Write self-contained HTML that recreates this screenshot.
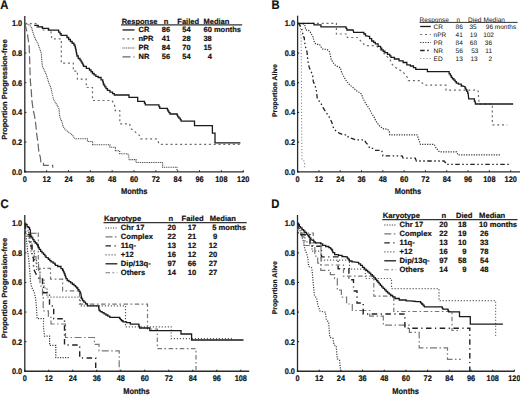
<!DOCTYPE html>
<html><head><meta charset="utf-8"><style>
html,body{margin:0;padding:0;background:#fff;}
svg{display:block;font-family:"Liberation Sans", sans-serif;text-rendering:geometricPrecision;}
text{fill:#111;}
text[font-weight=bold]{stroke:#111;stroke-width:0.2px;}
</style></head><body>
<svg width="520" height="400" viewBox="0 0 520 400">
<rect width="520" height="400" fill="#fff"/>
<line x1="24.80" y1="16.10" x2="24.80" y2="172.40" stroke="#2a2a2a" stroke-width="1.3"/>
<line x1="24.20" y1="171.80" x2="243.80" y2="171.80" stroke="#2a2a2a" stroke-width="1.3"/>
<line x1="24.80" y1="171.80" x2="26.40" y2="171.80" stroke="#222" stroke-width="1.0"/>
<text x="0" y="0" font-size="8.2" font-weight="bold" text-anchor="end" transform="translate(22.20,174.75) scale(0.9,1)">0.0</text>
<line x1="24.80" y1="142.10" x2="26.40" y2="142.10" stroke="#222" stroke-width="1.0"/>
<text x="0" y="0" font-size="8.2" font-weight="bold" text-anchor="end" transform="translate(22.20,145.05) scale(0.9,1)">0.2</text>
<line x1="24.80" y1="112.40" x2="26.40" y2="112.40" stroke="#222" stroke-width="1.0"/>
<text x="0" y="0" font-size="8.2" font-weight="bold" text-anchor="end" transform="translate(22.20,115.35) scale(0.9,1)">0.4</text>
<line x1="24.80" y1="82.70" x2="26.40" y2="82.70" stroke="#222" stroke-width="1.0"/>
<text x="0" y="0" font-size="8.2" font-weight="bold" text-anchor="end" transform="translate(22.20,85.65) scale(0.9,1)">0.6</text>
<line x1="24.80" y1="53.00" x2="26.40" y2="53.00" stroke="#222" stroke-width="1.0"/>
<text x="0" y="0" font-size="8.2" font-weight="bold" text-anchor="end" transform="translate(22.20,55.95) scale(0.9,1)">0.8</text>
<line x1="24.80" y1="23.30" x2="26.40" y2="23.30" stroke="#222" stroke-width="1.0"/>
<text x="0" y="0" font-size="8.2" font-weight="bold" text-anchor="end" transform="translate(22.20,26.25) scale(0.9,1)">1.0</text>
<line x1="24.80" y1="171.80" x2="24.80" y2="170.20" stroke="#222" stroke-width="1.0"/>
<text x="0" y="0" font-size="8.2" font-weight="bold" text-anchor="middle" transform="translate(24.80,181.80) scale(0.9,1)">0</text>
<line x1="46.64" y1="171.80" x2="46.64" y2="170.20" stroke="#222" stroke-width="1.0"/>
<text x="0" y="0" font-size="8.2" font-weight="bold" text-anchor="middle" transform="translate(46.64,181.80) scale(0.9,1)">12</text>
<line x1="68.48" y1="171.80" x2="68.48" y2="170.20" stroke="#222" stroke-width="1.0"/>
<text x="0" y="0" font-size="8.2" font-weight="bold" text-anchor="middle" transform="translate(68.48,181.80) scale(0.9,1)">24</text>
<line x1="90.32" y1="171.80" x2="90.32" y2="170.20" stroke="#222" stroke-width="1.0"/>
<text x="0" y="0" font-size="8.2" font-weight="bold" text-anchor="middle" transform="translate(90.32,181.80) scale(0.9,1)">36</text>
<line x1="112.16" y1="171.80" x2="112.16" y2="170.20" stroke="#222" stroke-width="1.0"/>
<text x="0" y="0" font-size="8.2" font-weight="bold" text-anchor="middle" transform="translate(112.16,181.80) scale(0.9,1)">48</text>
<line x1="134.00" y1="171.80" x2="134.00" y2="170.20" stroke="#222" stroke-width="1.0"/>
<text x="0" y="0" font-size="8.2" font-weight="bold" text-anchor="middle" transform="translate(134.00,181.80) scale(0.9,1)">60</text>
<line x1="155.84" y1="171.80" x2="155.84" y2="170.20" stroke="#222" stroke-width="1.0"/>
<text x="0" y="0" font-size="8.2" font-weight="bold" text-anchor="middle" transform="translate(155.84,181.80) scale(0.9,1)">72</text>
<line x1="177.68" y1="171.80" x2="177.68" y2="170.20" stroke="#222" stroke-width="1.0"/>
<text x="0" y="0" font-size="8.2" font-weight="bold" text-anchor="middle" transform="translate(177.68,181.80) scale(0.9,1)">84</text>
<line x1="199.52" y1="171.80" x2="199.52" y2="170.20" stroke="#222" stroke-width="1.0"/>
<text x="0" y="0" font-size="8.2" font-weight="bold" text-anchor="middle" transform="translate(199.52,181.80) scale(0.9,1)">96</text>
<line x1="221.36" y1="171.80" x2="221.36" y2="170.20" stroke="#222" stroke-width="1.0"/>
<text x="0" y="0" font-size="8.2" font-weight="bold" text-anchor="middle" transform="translate(221.36,181.80) scale(0.9,1)">108</text>
<line x1="243.20" y1="171.80" x2="243.20" y2="170.20" stroke="#222" stroke-width="1.0"/>
<text x="0" y="0" font-size="8.2" font-weight="bold" text-anchor="middle" transform="translate(243.20,181.80) scale(0.9,1)">120</text>
<line x1="297.60" y1="15.70" x2="297.60" y2="172.40" stroke="#2a2a2a" stroke-width="1.3"/>
<line x1="297.00" y1="171.80" x2="520.00" y2="171.80" stroke="#2a2a2a" stroke-width="1.3"/>
<line x1="297.60" y1="171.80" x2="299.20" y2="171.80" stroke="#222" stroke-width="1.0"/>
<text x="0" y="0" font-size="8.2" font-weight="bold" text-anchor="end" transform="translate(295.00,174.75) scale(0.9,1)">0.0</text>
<line x1="297.60" y1="142.10" x2="299.20" y2="142.10" stroke="#222" stroke-width="1.0"/>
<text x="0" y="0" font-size="8.2" font-weight="bold" text-anchor="end" transform="translate(295.00,145.05) scale(0.9,1)">0.2</text>
<line x1="297.60" y1="112.40" x2="299.20" y2="112.40" stroke="#222" stroke-width="1.0"/>
<text x="0" y="0" font-size="8.2" font-weight="bold" text-anchor="end" transform="translate(295.00,115.35) scale(0.9,1)">0.4</text>
<line x1="297.60" y1="82.70" x2="299.20" y2="82.70" stroke="#222" stroke-width="1.0"/>
<text x="0" y="0" font-size="8.2" font-weight="bold" text-anchor="end" transform="translate(295.00,85.65) scale(0.9,1)">0.6</text>
<line x1="297.60" y1="53.00" x2="299.20" y2="53.00" stroke="#222" stroke-width="1.0"/>
<text x="0" y="0" font-size="8.2" font-weight="bold" text-anchor="end" transform="translate(295.00,55.95) scale(0.9,1)">0.8</text>
<line x1="297.60" y1="23.30" x2="299.20" y2="23.30" stroke="#222" stroke-width="1.0"/>
<text x="0" y="0" font-size="8.2" font-weight="bold" text-anchor="end" transform="translate(295.00,26.25) scale(0.9,1)">1.0</text>
<line x1="297.60" y1="171.80" x2="297.60" y2="170.20" stroke="#222" stroke-width="1.0"/>
<text x="0" y="0" font-size="8.2" font-weight="bold" text-anchor="middle" transform="translate(297.60,181.80) scale(0.9,1)">0</text>
<line x1="318.91" y1="171.80" x2="318.91" y2="170.20" stroke="#222" stroke-width="1.0"/>
<text x="0" y="0" font-size="8.2" font-weight="bold" text-anchor="middle" transform="translate(318.91,181.80) scale(0.9,1)">12</text>
<line x1="340.22" y1="171.80" x2="340.22" y2="170.20" stroke="#222" stroke-width="1.0"/>
<text x="0" y="0" font-size="8.2" font-weight="bold" text-anchor="middle" transform="translate(340.22,181.80) scale(0.9,1)">24</text>
<line x1="361.53" y1="171.80" x2="361.53" y2="170.20" stroke="#222" stroke-width="1.0"/>
<text x="0" y="0" font-size="8.2" font-weight="bold" text-anchor="middle" transform="translate(361.53,181.80) scale(0.9,1)">36</text>
<line x1="382.84" y1="171.80" x2="382.84" y2="170.20" stroke="#222" stroke-width="1.0"/>
<text x="0" y="0" font-size="8.2" font-weight="bold" text-anchor="middle" transform="translate(382.84,181.80) scale(0.9,1)">48</text>
<line x1="404.15" y1="171.80" x2="404.15" y2="170.20" stroke="#222" stroke-width="1.0"/>
<text x="0" y="0" font-size="8.2" font-weight="bold" text-anchor="middle" transform="translate(404.15,181.80) scale(0.9,1)">60</text>
<line x1="425.46" y1="171.80" x2="425.46" y2="170.20" stroke="#222" stroke-width="1.0"/>
<text x="0" y="0" font-size="8.2" font-weight="bold" text-anchor="middle" transform="translate(425.46,181.80) scale(0.9,1)">72</text>
<line x1="446.77" y1="171.80" x2="446.77" y2="170.20" stroke="#222" stroke-width="1.0"/>
<text x="0" y="0" font-size="8.2" font-weight="bold" text-anchor="middle" transform="translate(446.77,181.80) scale(0.9,1)">84</text>
<line x1="468.08" y1="171.80" x2="468.08" y2="170.20" stroke="#222" stroke-width="1.0"/>
<text x="0" y="0" font-size="8.2" font-weight="bold" text-anchor="middle" transform="translate(468.08,181.80) scale(0.9,1)">96</text>
<line x1="489.39" y1="171.80" x2="489.39" y2="170.20" stroke="#222" stroke-width="1.0"/>
<text x="0" y="0" font-size="8.2" font-weight="bold" text-anchor="middle" transform="translate(489.39,181.80) scale(0.9,1)">108</text>
<line x1="510.70" y1="171.80" x2="510.70" y2="170.20" stroke="#222" stroke-width="1.0"/>
<text x="0" y="0" font-size="8.2" font-weight="bold" text-anchor="middle" transform="translate(510.70,181.80) scale(0.9,1)">120</text>
<line x1="24.80" y1="215.00" x2="24.80" y2="371.85" stroke="#2a2a2a" stroke-width="1.3"/>
<line x1="24.20" y1="371.25" x2="249.20" y2="371.25" stroke="#2a2a2a" stroke-width="1.3"/>
<line x1="24.80" y1="371.25" x2="26.40" y2="371.25" stroke="#222" stroke-width="1.0"/>
<text x="0" y="0" font-size="8.2" font-weight="bold" text-anchor="end" transform="translate(22.20,374.20) scale(0.9,1)">0.0</text>
<line x1="24.80" y1="341.65" x2="26.40" y2="341.65" stroke="#222" stroke-width="1.0"/>
<text x="0" y="0" font-size="8.2" font-weight="bold" text-anchor="end" transform="translate(22.20,344.60) scale(0.9,1)">0.2</text>
<line x1="24.80" y1="312.05" x2="26.40" y2="312.05" stroke="#222" stroke-width="1.0"/>
<text x="0" y="0" font-size="8.2" font-weight="bold" text-anchor="end" transform="translate(22.20,315.00) scale(0.9,1)">0.4</text>
<line x1="24.80" y1="282.45" x2="26.40" y2="282.45" stroke="#222" stroke-width="1.0"/>
<text x="0" y="0" font-size="8.2" font-weight="bold" text-anchor="end" transform="translate(22.20,285.40) scale(0.9,1)">0.6</text>
<line x1="24.80" y1="252.85" x2="26.40" y2="252.85" stroke="#222" stroke-width="1.0"/>
<text x="0" y="0" font-size="8.2" font-weight="bold" text-anchor="end" transform="translate(22.20,255.80) scale(0.9,1)">0.8</text>
<line x1="24.80" y1="223.25" x2="26.40" y2="223.25" stroke="#222" stroke-width="1.0"/>
<text x="0" y="0" font-size="8.2" font-weight="bold" text-anchor="end" transform="translate(22.20,226.20) scale(0.9,1)">1.0</text>
<line x1="24.80" y1="371.25" x2="24.80" y2="369.65" stroke="#222" stroke-width="1.0"/>
<text x="0" y="0" font-size="8.2" font-weight="bold" text-anchor="middle" transform="translate(24.80,381.25) scale(0.9,1)">0</text>
<line x1="48.80" y1="371.25" x2="48.80" y2="369.65" stroke="#222" stroke-width="1.0"/>
<text x="0" y="0" font-size="8.2" font-weight="bold" text-anchor="middle" transform="translate(48.80,381.25) scale(0.9,1)">12</text>
<line x1="72.80" y1="371.25" x2="72.80" y2="369.65" stroke="#222" stroke-width="1.0"/>
<text x="0" y="0" font-size="8.2" font-weight="bold" text-anchor="middle" transform="translate(72.80,381.25) scale(0.9,1)">24</text>
<line x1="96.80" y1="371.25" x2="96.80" y2="369.65" stroke="#222" stroke-width="1.0"/>
<text x="0" y="0" font-size="8.2" font-weight="bold" text-anchor="middle" transform="translate(96.80,381.25) scale(0.9,1)">36</text>
<line x1="120.80" y1="371.25" x2="120.80" y2="369.65" stroke="#222" stroke-width="1.0"/>
<text x="0" y="0" font-size="8.2" font-weight="bold" text-anchor="middle" transform="translate(120.80,381.25) scale(0.9,1)">48</text>
<line x1="144.80" y1="371.25" x2="144.80" y2="369.65" stroke="#222" stroke-width="1.0"/>
<text x="0" y="0" font-size="8.2" font-weight="bold" text-anchor="middle" transform="translate(144.80,381.25) scale(0.9,1)">60</text>
<line x1="168.80" y1="371.25" x2="168.80" y2="369.65" stroke="#222" stroke-width="1.0"/>
<text x="0" y="0" font-size="8.2" font-weight="bold" text-anchor="middle" transform="translate(168.80,381.25) scale(0.9,1)">72</text>
<line x1="192.80" y1="371.25" x2="192.80" y2="369.65" stroke="#222" stroke-width="1.0"/>
<text x="0" y="0" font-size="8.2" font-weight="bold" text-anchor="middle" transform="translate(192.80,381.25) scale(0.9,1)">84</text>
<line x1="216.80" y1="371.25" x2="216.80" y2="369.65" stroke="#222" stroke-width="1.0"/>
<text x="0" y="0" font-size="8.2" font-weight="bold" text-anchor="middle" transform="translate(216.80,381.25) scale(0.9,1)">96</text>
<line x1="240.80" y1="371.25" x2="240.80" y2="369.65" stroke="#222" stroke-width="1.0"/>
<text x="0" y="0" font-size="8.2" font-weight="bold" text-anchor="middle" transform="translate(240.80,381.25) scale(0.9,1)">108</text>
<line x1="297.50" y1="215.00" x2="297.50" y2="371.85" stroke="#2a2a2a" stroke-width="1.3"/>
<line x1="296.90" y1="371.25" x2="514.60" y2="371.25" stroke="#2a2a2a" stroke-width="1.3"/>
<line x1="297.50" y1="371.25" x2="299.10" y2="371.25" stroke="#222" stroke-width="1.0"/>
<text x="0" y="0" font-size="8.2" font-weight="bold" text-anchor="end" transform="translate(294.90,374.20) scale(0.9,1)">0.0</text>
<line x1="297.50" y1="341.65" x2="299.10" y2="341.65" stroke="#222" stroke-width="1.0"/>
<text x="0" y="0" font-size="8.2" font-weight="bold" text-anchor="end" transform="translate(294.90,344.60) scale(0.9,1)">0.2</text>
<line x1="297.50" y1="312.05" x2="299.10" y2="312.05" stroke="#222" stroke-width="1.0"/>
<text x="0" y="0" font-size="8.2" font-weight="bold" text-anchor="end" transform="translate(294.90,315.00) scale(0.9,1)">0.4</text>
<line x1="297.50" y1="282.45" x2="299.10" y2="282.45" stroke="#222" stroke-width="1.0"/>
<text x="0" y="0" font-size="8.2" font-weight="bold" text-anchor="end" transform="translate(294.90,285.40) scale(0.9,1)">0.6</text>
<line x1="297.50" y1="252.85" x2="299.10" y2="252.85" stroke="#222" stroke-width="1.0"/>
<text x="0" y="0" font-size="8.2" font-weight="bold" text-anchor="end" transform="translate(294.90,255.80) scale(0.9,1)">0.8</text>
<line x1="297.50" y1="223.25" x2="299.10" y2="223.25" stroke="#222" stroke-width="1.0"/>
<text x="0" y="0" font-size="8.2" font-weight="bold" text-anchor="end" transform="translate(294.90,226.20) scale(0.9,1)">1.0</text>
<line x1="297.50" y1="371.25" x2="297.50" y2="369.65" stroke="#222" stroke-width="1.0"/>
<text x="0" y="0" font-size="8.2" font-weight="bold" text-anchor="middle" transform="translate(297.50,381.25) scale(0.9,1)">0</text>
<line x1="319.19" y1="371.25" x2="319.19" y2="369.65" stroke="#222" stroke-width="1.0"/>
<text x="0" y="0" font-size="8.2" font-weight="bold" text-anchor="middle" transform="translate(319.19,381.25) scale(0.9,1)">12</text>
<line x1="340.88" y1="371.25" x2="340.88" y2="369.65" stroke="#222" stroke-width="1.0"/>
<text x="0" y="0" font-size="8.2" font-weight="bold" text-anchor="middle" transform="translate(340.88,381.25) scale(0.9,1)">24</text>
<line x1="362.57" y1="371.25" x2="362.57" y2="369.65" stroke="#222" stroke-width="1.0"/>
<text x="0" y="0" font-size="8.2" font-weight="bold" text-anchor="middle" transform="translate(362.57,381.25) scale(0.9,1)">36</text>
<line x1="384.26" y1="371.25" x2="384.26" y2="369.65" stroke="#222" stroke-width="1.0"/>
<text x="0" y="0" font-size="8.2" font-weight="bold" text-anchor="middle" transform="translate(384.26,381.25) scale(0.9,1)">48</text>
<line x1="405.95" y1="371.25" x2="405.95" y2="369.65" stroke="#222" stroke-width="1.0"/>
<text x="0" y="0" font-size="8.2" font-weight="bold" text-anchor="middle" transform="translate(405.95,381.25) scale(0.9,1)">60</text>
<line x1="427.64" y1="371.25" x2="427.64" y2="369.65" stroke="#222" stroke-width="1.0"/>
<text x="0" y="0" font-size="8.2" font-weight="bold" text-anchor="middle" transform="translate(427.64,381.25) scale(0.9,1)">72</text>
<line x1="449.33" y1="371.25" x2="449.33" y2="369.65" stroke="#222" stroke-width="1.0"/>
<text x="0" y="0" font-size="8.2" font-weight="bold" text-anchor="middle" transform="translate(449.33,381.25) scale(0.9,1)">84</text>
<line x1="471.02" y1="371.25" x2="471.02" y2="369.65" stroke="#222" stroke-width="1.0"/>
<text x="0" y="0" font-size="8.2" font-weight="bold" text-anchor="middle" transform="translate(471.02,381.25) scale(0.9,1)">96</text>
<line x1="492.71" y1="371.25" x2="492.71" y2="369.65" stroke="#222" stroke-width="1.0"/>
<text x="0" y="0" font-size="8.2" font-weight="bold" text-anchor="middle" transform="translate(492.71,381.25) scale(0.9,1)">108</text>
<line x1="514.40" y1="371.25" x2="514.40" y2="369.65" stroke="#222" stroke-width="1.0"/>
<text x="0" y="0" font-size="8.2" font-weight="bold" text-anchor="middle" transform="translate(514.40,381.25) scale(0.9,1)">120</text>
<text x="0" y="0" font-size="12.5" font-weight="bold" transform="translate(0.3,8.5) scale(0.9,1)">A</text>
<text x="0" y="0" font-size="12.5" font-weight="bold" transform="translate(271.6,8.8) scale(0.9,1)">B</text>
<text x="0" y="0" font-size="12.5" font-weight="bold" transform="translate(0.4,207.5) scale(0.9,1)">C</text>
<text x="0" y="0" font-size="12.5" font-weight="bold" transform="translate(271.2,207.6) scale(0.9,1)">D</text>
<text x="0" y="0" font-size="8.3" font-weight="bold" text-anchor="middle" transform="translate(134.20,193.85) scale(0.9,1)">Months</text>
<text x="0" y="0" font-size="8.3" font-weight="bold" text-anchor="middle" transform="translate(408.00,193.85) scale(0.9,1)">Months</text>
<text x="0" y="0" font-size="8.3" font-weight="bold" text-anchor="middle" transform="translate(136.50,393.80) scale(0.9,1)">Months</text>
<text x="0" y="0" font-size="8.3" font-weight="bold" text-anchor="middle" transform="translate(405.60,393.50) scale(0.9,1)">Months</text>
<text x="0" y="0" font-size="7.5" font-weight="bold" text-anchor="middle" transform="translate(7.30,89.50) rotate(-90)">Proportion Progression-free</text>
<text x="0" y="0" font-size="6.85" font-weight="bold" text-anchor="middle" transform="translate(276.50,90.60) rotate(-90)">Proportion Alive</text>
<text x="0" y="0" font-size="7.5" font-weight="bold" text-anchor="middle" transform="translate(7.30,288.00) rotate(-90)">Proportion Progression-free</text>
<text x="0" y="0" font-size="6.85" font-weight="bold" text-anchor="middle" transform="translate(276.50,287.80) rotate(-90)">Proportion Alive</text>
<path d="M25,23.6 L27.5,34.6 L29.2,46.2 L29.5,55 L30.3,80.4 L31.2,89.6 L31.8,99.4 L32.6,105.8 L33.2,110 L34.8,117.3 L35.4,121.5 L36.3,129.6 L36.7,134.2 L37.8,141.5 L38.2,145 L39,153.1 L40.3,156.9 L40.9,162.5 H43.5 V165.4 H52.7 V167.7" fill="none" stroke="#666" stroke-width="1.2" stroke-dasharray="8,3" stroke-linecap="butt" stroke-linejoin="miter"/>
<path d="M25,23.6 L28.6,24.5 L30.9,26.5 L31.7,28 L33.2,33.4 L34.4,36.5 L35.9,40.3 L37.8,43.4 L39.6,48.5 L41.3,53.1 L41.9,61.9 L42.5,66.5 L44.2,70 L46.5,75.2 L48.8,82.7 L51.1,88.5 L52.3,94.2 L53.4,98.8 L54.3,100.8 L57.2,105.4 L59,108.8 L59.5,114.6 L60.1,118.1 L61.8,121.5 L63,126.2 L64.7,129 L68.2,131.9 L72.2,134.8 L75.1,138.8 H87.4 V141.5 H92.6 V144.8 H109.9 V147.3 H115.4 V150.8 H119.7 V153.7 H127.8 L128.7,156 L129.2,159.6 H136 V162.5 H162.6 V167.3 H176.9 V170" fill="none" stroke="#444" stroke-width="1.1" stroke-dasharray="1,0.8" stroke-linecap="butt" stroke-linejoin="miter"/>
<path d="M25,23.6 H36 V27 H42.5 V30 H50.8 L51.7,38.8 H61.3 V63.1 H73.3 V71.2 H77.4 V79.2 H86.3 V87.5 H92.5 V100.5 H112 L114.6,105.4 L115.2,109.4 V110.6 H119.8 V123.8 H129.6 L130.2,126.2 L131.3,129 L134.2,130.8 L136.5,133.1 L139.4,135.4 L140.6,138.8 H157 L157.9,141.2 L159.4,144.3 H240" fill="none" stroke="#6a6a6a" stroke-width="1.2" stroke-dasharray="2,2.8" stroke-linecap="butt" stroke-linejoin="miter"/>
<path d="M34.20,25.30 H38.20 V26.80 H42.50 V28.40 H48.60 V30.20 H57.80 H58.60 V32.20 H59.40 H59.98 V33.75 H61.12 V35.30 H61.70 H66.10 H66.95 V37.50 H67.80 H68.67 V39.50 H70.42 V41.50 H71.30 H72.17 V43.25 H73.92 V45.00 H74.80 H74.98 V46.53 H75.35 V48.07 H75.72 V49.60 H75.90 H76.05 V51.20 H76.35 V52.80 H76.65 V54.40 H76.95 V56.00 H77.10 H78.25 V58.50 H79.40 H79.98 V60.20 H81.12 V61.90 H81.70 H82.08 V63.37 H82.85 V64.83 H83.62 V66.30 H84.00 H86.30 V68.30 H88.60 H89.45 V70.00 H90.30 H91.03 V71.75 H92.47 V73.50 H93.20 H94.08 V74.90 H95.83 V76.30 H96.70 H98.15 V77.50 H99.60 H101.05 V79.80 H102.50 H102.78 V81.90 H103.32 V84.00 H103.60 H104.02 V85.45 H104.88 V86.90 H105.30 H106.03 V88.65 H107.47 V90.40 H108.20 H109.95 V92.10 H111.70 H112.58 V93.55 H114.33 V95.00 H115.20 H129.00 V97.30 H137.70 V101.30 H144.00 H144.45 V103.05 H145.35 V104.80 H145.80 H158.50 H158.93 V106.55 H159.77 V108.30 H160.20 H167.10 H167.40 V109.75 H168.00 V111.20 H168.30 H168.88 V112.60 H170.03 V114.00 H170.60 H176.90 H177.20 V115.45 H177.80 V116.90 H178.10 H178.95 V118.10 H179.80 H180.23 V119.65 H181.07 V121.20 H181.50 H194.50 V125.60 H212.40 V133.10 H215.00 V142.90 H240.40" fill="none" stroke="#1a1a1a" stroke-width="1.3" stroke-linecap="butt" stroke-linejoin="miter"/>
<text x="121.70" y="23.50" font-size="7.5" font-weight="bold" text-anchor="start">Response</text>
<text x="163.80" y="23.50" font-size="7.5" font-weight="bold" text-anchor="start">n</text>
<text x="177.30" y="23.50" font-size="7.5" font-weight="bold" text-anchor="start">Failed</text>
<text x="203.50" y="23.50" font-size="7.5" font-weight="bold" text-anchor="start">Median</text>
<line x1="121.00" y1="24.90" x2="242.20" y2="24.90" stroke="#333" stroke-width="1.2"/>
<path d="M122.5,29.950000000000003 H134.5" fill="none" stroke="#1a1a1a" stroke-width="1.3" stroke-linecap="butt" stroke-linejoin="miter"/>
<text x="138.50" y="32.45" font-size="7.5" font-weight="bold" text-anchor="start">CR</text>
<text x="170.20" y="32.45" font-size="7.5" font-weight="bold" text-anchor="end">86</text>
<text x="190.60" y="32.45" font-size="7.5" font-weight="bold" text-anchor="end">54</text>
<text x="203.50" y="32.45" font-size="7.5" font-weight="bold" text-anchor="start">60 months</text>
<path d="M122.5,38.95 H134.5" fill="none" stroke="#6a6a6a" stroke-width="1.2" stroke-dasharray="2,2.8" stroke-linecap="butt" stroke-linejoin="miter"/>
<text x="138.50" y="41.45" font-size="7.5" font-weight="bold" text-anchor="start">nPR</text>
<text x="170.20" y="41.45" font-size="7.5" font-weight="bold" text-anchor="end">41</text>
<text x="190.60" y="41.45" font-size="7.5" font-weight="bold" text-anchor="end">28</text>
<text x="211.80" y="41.45" font-size="7.5" font-weight="bold" text-anchor="end">38</text>
<path d="M122.5,47.95 H134.5" fill="none" stroke="#444" stroke-width="1.1" stroke-dasharray="1,0.8" stroke-linecap="butt" stroke-linejoin="miter"/>
<text x="138.50" y="50.45" font-size="7.5" font-weight="bold" text-anchor="start">PR</text>
<text x="170.20" y="50.45" font-size="7.5" font-weight="bold" text-anchor="end">84</text>
<text x="190.60" y="50.45" font-size="7.5" font-weight="bold" text-anchor="end">70</text>
<text x="211.80" y="50.45" font-size="7.5" font-weight="bold" text-anchor="end">15</text>
<path d="M122.5,56.95 H134.5" fill="none" stroke="#666" stroke-width="1.2" stroke-dasharray="8,3" stroke-linecap="butt" stroke-linejoin="miter"/>
<text x="138.50" y="59.45" font-size="7.5" font-weight="bold" text-anchor="start">NR</text>
<text x="170.20" y="59.45" font-size="7.5" font-weight="bold" text-anchor="end">56</text>
<text x="190.60" y="59.45" font-size="7.5" font-weight="bold" text-anchor="end">54</text>
<text x="211.80" y="59.45" font-size="7.5" font-weight="bold" text-anchor="end">4</text>
<path d="M297.7,23.4 L300.2,24.9 L301.2,40 L301.5,100 L301.9,159.7 L303,160.3 L304.6,161.4 V167.8" fill="none" stroke="#888" stroke-width="1.1" stroke-dasharray="1.1,2" stroke-linecap="butt" stroke-linejoin="miter"/>
<path d="M297.7,23.4 L299.2,24.2 L301.2,28 L302.7,31.8 V36.5 L304.2,37.2 L304.6,41.8 L305.4,46.5 L307,51.9 L307.5,57.7 L308.1,61.9 L309.3,67.7 L311,71.2 L312.7,75.8 L313.3,81.5 L315,85.6 L316.2,89.6 L316.8,94.2 L317.3,98.8 L317.9,99.6 L320.8,103.1 L323.1,107.7 L326,112.3 L329.5,117.5 L331.8,122.1 L332.9,126.7 L335.8,130.8 L339.3,133.1 L343.3,134.8 L347.5,134.9 L348.3,137.2 L351.8,138.4 L355.6,139.9 H364.5 L365.6,142.2 L368.3,145.3 L369.8,148.4 H373.3 L375.6,150.3 H381.6 L382.3,152.3 L382.9,155.8 H402 L403.1,158.1 H415.2 L416.4,161 H444 L446.3,163.5 V164.4 H510.8" fill="none" stroke="#222" stroke-width="1.3" stroke-dasharray="4.5,2.5,1.5,2.5,1.5,2.5" stroke-linecap="butt" stroke-linejoin="miter"/>
<path d="M297.7,23.4 L304.2,24.2 L305,26 L305.8,29.9 L308.5,30.3 L310.4,32.2 L311.5,34.2 L313.1,37.2 L313.8,40.3 L314.6,42.6 L315.8,44.2 L319.6,44.5 L321.2,47.2 L322.5,49 L327.2,49.6 L329.5,51.9 L330.6,56.5 L331.2,59.6 L334.1,64.2 L336.4,66 L340.4,67.7 L341.6,72.3 L343.3,75.8 L345.6,79.8 L348.5,83.8 L352,86.7 L356.6,90.8 L361.8,94.2 L362.4,97.1 L365.3,102.9 L369.3,108.7 L371.6,113.3 L374.5,117.9 L376,121.2 L377.4,123.1 L379.5,125.8 L382.9,128.7 L387.5,129.2 L389.3,131.5 L389.8,134.8 H417 L418.7,139.2 L420.4,144.4 H434.2 L436,147.9 L439.4,151.9 H456.7 L457.9,154.8 H500.4" fill="none" stroke="#333" stroke-width="1.2" stroke-dasharray="1.2,1.3" stroke-linecap="butt" stroke-linejoin="miter"/>
<path d="M297.7,23.4 H336.4 V34 H346.8 L347.3,37.5 H357.8 L361.2,41.5 L363,43.3 L365.3,45.6 H375.1 L376.8,46.2 L383.5,52.7 L390.4,60.2 L391.5,63.7 L394.4,66.5 L397.3,68.8 L400.8,70.6 L403.7,72.9 L406,75.2 L407.7,78.1 L408.3,80.6 H420.4 L422.3,83.1 L424.6,85.2 H446 V90.2 H477.7 L478.5,92.5 V98.8 L479,101.2 V104 H492.3 V124.8 H507.3" fill="none" stroke="#6a6a6a" stroke-width="1.2" stroke-dasharray="2,2.8" stroke-linecap="butt" stroke-linejoin="miter"/>
<path d="M297.70,23.40 H313.50 H314.05 V24.90 H314.60 H320.40 H320.95 V26.80 H321.50 H345.60 H346.03 V28.40 H346.88 V30.00 H347.30 H353.10 L353.70,32.30 H363.00 H363.85 V34.00 H364.70 H365.55 V35.80 H366.40 L368.70,36.30 H369.60 V38.70 H370.50 H371.65 V41.00 H372.80 H373.65 V42.40 H375.35 V43.80 H376.20 H378.10 V46.30 H380.00 H380.57 V48.05 H381.73 V49.80 H382.30 H383.18 V51.25 H384.93 V52.70 H385.80 H387.50 V54.40 H389.20 H389.77 V55.85 H390.93 V57.30 H391.50 H394.40 V59.00 H397.30 H399.05 V60.80 H400.80 H403.10 V62.50 H405.40 H406.85 V64.80 H408.30 H410.30 V66.00 H412.30 H413.45 V67.70 H414.60 H415.75 V69.40 H416.90 H426.80 H427.40 V71.60 H428.00 H448.30 H449.15 V73.80 H450.00 H450.43 V75.55 H451.27 V77.30 H451.70 H452.43 V78.75 H453.88 V80.20 H454.60 H455.18 V81.65 H456.32 V83.10 H456.90 H458.35 V84.20 H459.80 H461.25 V86.00 H462.70 L464.60,86.70 H465.03 V88.15 H465.88 V89.60 H466.30 H466.75 V91.35 H467.65 V93.10 H468.10 L468.70,98.80 H473.80 H474.40 V101.20 H475.00 H475.15 V102.60 H475.45 V104.00 H475.60 H513.10" fill="none" stroke="#1a1a1a" stroke-width="1.3" stroke-linecap="butt" stroke-linejoin="miter"/>
<text x="419.60" y="21.70" font-size="6.5" font-weight="normal" text-anchor="start">Response</text>
<text x="456.50" y="21.70" font-size="6.5" font-weight="normal" text-anchor="start">n</text>
<text x="468.00" y="21.70" font-size="6.5" font-weight="normal" text-anchor="start">Died</text>
<text x="483.60" y="21.70" font-size="6.5" font-weight="normal" text-anchor="start">Median</text>
<line x1="419.50" y1="22.40" x2="517.70" y2="22.40" stroke="#333" stroke-width="1.0"/>
<path d="M420.2,26.5 H430.8" fill="none" stroke="#1a1a1a" stroke-width="1.3" stroke-linecap="butt" stroke-linejoin="miter"/>
<text x="433.60" y="28.70" font-size="6.5" font-weight="normal" text-anchor="start">CR</text>
<text x="462.80" y="28.70" font-size="6.5" font-weight="normal" text-anchor="end">86</text>
<text x="476.70" y="28.70" font-size="6.5" font-weight="normal" text-anchor="end">35</text>
<text x="485.80" y="28.70" font-size="6.5" font-weight="normal" text-anchor="start">96 months</text>
<path d="M420.2,34.5 H430.8" fill="none" stroke="#6a6a6a" stroke-width="1.2" stroke-dasharray="2,2.8" stroke-linecap="butt" stroke-linejoin="miter"/>
<text x="433.60" y="36.70" font-size="6.5" font-weight="normal" text-anchor="start">nPR</text>
<text x="462.80" y="36.70" font-size="6.5" font-weight="normal" text-anchor="end">41</text>
<text x="477.00" y="36.70" font-size="6.5" font-weight="normal" text-anchor="end">19</text>
<text x="494.00" y="36.70" font-size="6.5" font-weight="normal" text-anchor="end">102</text>
<path d="M420.2,42.5 H430.8" fill="none" stroke="#333" stroke-width="1.2" stroke-dasharray="1.2,1.3" stroke-linecap="butt" stroke-linejoin="miter"/>
<text x="433.60" y="44.70" font-size="6.5" font-weight="normal" text-anchor="start">PR</text>
<text x="462.80" y="44.70" font-size="6.5" font-weight="normal" text-anchor="end">84</text>
<text x="477.00" y="44.70" font-size="6.5" font-weight="normal" text-anchor="end">68</text>
<text x="492.00" y="44.70" font-size="6.5" font-weight="normal" text-anchor="end">36</text>
<path d="M420.2,50.5 H430.8" fill="none" stroke="#222" stroke-width="1.3" stroke-dasharray="4.5,2.5,1.5,2.5,1.5,2.5" stroke-linecap="butt" stroke-linejoin="miter"/>
<text x="433.60" y="52.70" font-size="6.5" font-weight="normal" text-anchor="start">NR</text>
<text x="462.80" y="52.70" font-size="6.5" font-weight="normal" text-anchor="end">56</text>
<text x="478.40" y="52.70" font-size="6.5" font-weight="normal" text-anchor="end">53</text>
<text x="492.00" y="52.70" font-size="6.5" font-weight="normal" text-anchor="end">11</text>
<path d="M420.2,58.5 H430.8" fill="none" stroke="#888" stroke-width="1.1" stroke-dasharray="1.1,2" stroke-linecap="butt" stroke-linejoin="miter"/>
<text x="433.60" y="60.70" font-size="6.5" font-weight="normal" text-anchor="start">ED</text>
<text x="462.80" y="60.70" font-size="6.5" font-weight="normal" text-anchor="end">13</text>
<text x="477.70" y="60.70" font-size="6.5" font-weight="normal" text-anchor="end">13</text>
<text x="492.00" y="60.70" font-size="6.5" font-weight="normal" text-anchor="end">2</text>
<path d="M24.6,223.4 L25.5,228 L26.5,240 L27.5,250 L28.5,258 L29,262.8 L29.8,272 L30.5,281.2 L31.7,287.4 L34,291.6 L35.5,297.7 L36.3,305.4 L36.7,313 L37.1,318.7 H43.5 V327.9 L44.5,336.1 H49.6 V345.3 H55.8 V357.6 H69.1" fill="none" stroke="#333" stroke-width="1.2" stroke-dasharray="1.1,1.4" stroke-linecap="butt" stroke-linejoin="miter"/>
<path d="M25.2,223.4 V232.5 H29 V241.7 H31 V251 H34.5 V260 H36.5 V269.5 H40 V278.8 H44 V288 H47 V297.2 H80.4 V305.8 H125.5 V326.8 H171.2 V338.7 H232.5" fill="none" stroke="#555" stroke-width="1.2" stroke-dasharray="1.1,1.9" stroke-linecap="butt" stroke-linejoin="miter"/>
<path d="M25.2,223.4 V230 H28 V236.5 H30 V243 H32 V250 H34 V256.5 H36 V263 H38.6 V272 H40 V283 L41.7,288.5 H42.5 V297.7 H43.2 V310.8 H48.4 V317.3 H51 V324 H65.5 V337.5 H94.4 V344.4 H99 V350.8 H119.2 V371" fill="none" stroke="#777" stroke-width="1.2" stroke-dasharray="7,2.5,1.5,2.5" stroke-linecap="butt" stroke-linejoin="miter"/>
<path d="M25.2,223.4 V234.6 H30 V246 H32 V257.4 H33.5 V268.8 L37.5,276.9 L39.4,278.8 H42.5 V285 H43.5 V292.8 H49.5 V306 H53.7 V318.8 H64.5 V345 H79.7 V358 H95.7 V371" fill="none" stroke="#222" stroke-width="1.4" stroke-dasharray="5.5,3.5,1.2,3.5" stroke-linecap="butt" stroke-linejoin="miter"/>
<path d="M38.3,232.6 V268.3 H50.5 V279.2 H62.6 V290.8 H79.5 V304.2 H147.5 V329 H157.3 V348.7 H196 V371" fill="none" stroke="#777" stroke-width="1.2" stroke-dasharray="4.5,2.5,1.7,2.5" stroke-linecap="butt" stroke-linejoin="miter"/>
<path d="M28.4,233.3 H36.6" fill="none" stroke="#777" stroke-width="1.2" stroke-linecap="butt" stroke-linejoin="miter"/>
<path d="M24.80,223.90 L25.50,224.10 L26.60,224.50 H27.05 V226.70 H27.50 H28.20 V227.50 H28.90 H29.50 V229.30 H30.10 L30.40,230.30 V234.80 H30.88 V236.30 H31.82 V237.80 H32.30 H32.85 V239.65 H33.95 V241.50 H34.50 H35.25 V243.00 H36.75 V244.50 H37.50 H37.77 V246.00 H38.33 V247.50 H38.60 H39.27 V249.40 H40.62 V251.30 H41.30 H42.05 V252.80 H43.55 V254.30 H44.30 H44.85 V255.80 H45.95 V257.30 H46.50 L47.70,257.90 H48.37 V259.23 H49.70 V260.57 H51.03 V261.90 H51.70 H53.15 V263.10 H54.60 H54.88 V264.25 H55.43 V265.40 H55.70 H57.75 V266.50 H59.80 H61.00 V268.60 H62.20 H62.60 V270.23 H63.40 V271.87 H64.20 V273.50 H64.60 H64.88 V275.23 H65.45 V276.97 H66.02 V278.70 H66.30 H67.20 V280.50 H68.10 H68.95 V281.65 H70.65 V282.80 H71.50 H72.38 V284.25 H74.12 V285.70 H75.00 H75.58 V286.85 H76.72 V288.00 H77.30 H77.88 V289.70 H79.02 V291.40 H79.60 H80.20 V293.20 H80.80 L81.30,296.60 H81.45 V297.75 H81.75 V298.90 H81.90 H82.58 V300.55 H83.92 V302.20 H84.60 H85.55 V303.80 H86.50 H87.50 V305.80 H88.50 H98.50 H98.62 V307.33 H98.85 V308.87 H99.08 V310.40 H99.20 H100.17 V311.55 H102.12 V312.70 H103.10 H104.05 V313.85 H105.95 V315.00 H106.90 H107.88 V316.15 H109.83 V317.30 H110.80 H119.20 H119.60 V318.45 H120.40 V319.60 H120.80 H121.55 V320.75 H123.05 V321.90 H123.80 H126.50 V322.70 H129.20 H130.35 V324.20 H131.50 H138.50 H138.88 V326.10 H139.62 V328.00 H140.00 H149.80 V330.60 H181.00 V334.00 H191.60 V340.00 H243.50" fill="none" stroke="#1a1a1a" stroke-width="1.3" stroke-linecap="butt" stroke-linejoin="miter"/>
<text x="104.00" y="221.10" font-size="7.6" font-weight="bold" text-anchor="start">Karyotype</text>
<text x="168.40" y="221.10" font-size="7.6" font-weight="bold" text-anchor="start">n</text>
<text x="181.60" y="221.10" font-size="7.6" font-weight="bold" text-anchor="start">Failed</text>
<text x="209.70" y="221.10" font-size="7.6" font-weight="bold" text-anchor="start">Median</text>
<line x1="103.50" y1="222.70" x2="246.70" y2="222.70" stroke="#333" stroke-width="1.2"/>
<path d="M105.5,228.0 H117.3" fill="none" stroke="#333" stroke-width="1.2" stroke-dasharray="1.1,1.4" stroke-linecap="butt" stroke-linejoin="miter"/>
<text x="120.80" y="230.10" font-size="7.6" font-weight="bold" text-anchor="start">Chr 17</text>
<text x="176.00" y="230.10" font-size="7.6" font-weight="bold" text-anchor="end">20</text>
<text x="196.30" y="230.10" font-size="7.6" font-weight="bold" text-anchor="end">17</text>
<text x="212.20" y="230.10" font-size="7.6" font-weight="bold" text-anchor="start">5 months</text>
<path d="M105.5,236.95 H117.3" fill="none" stroke="#777" stroke-width="1.2" stroke-dasharray="7,2.5,1.5,2.5" stroke-linecap="butt" stroke-linejoin="miter"/>
<text x="120.80" y="239.05" font-size="7.6" font-weight="bold" text-anchor="start">Complex</text>
<text x="176.00" y="239.05" font-size="7.6" font-weight="bold" text-anchor="end">22</text>
<text x="196.30" y="239.05" font-size="7.6" font-weight="bold" text-anchor="end">21</text>
<text x="217.30" y="239.05" font-size="7.6" font-weight="bold" text-anchor="end">9</text>
<path d="M105.5,245.9 H117.3" fill="none" stroke="#222" stroke-width="1.4" stroke-dasharray="5.5,3.5,1.2,3.5" stroke-linecap="butt" stroke-linejoin="miter"/>
<text x="120.80" y="248.00" font-size="7.6" font-weight="bold" text-anchor="start">11q-</text>
<text x="176.00" y="248.00" font-size="7.6" font-weight="bold" text-anchor="end">13</text>
<text x="196.30" y="248.00" font-size="7.6" font-weight="bold" text-anchor="end">12</text>
<text x="217.30" y="248.00" font-size="7.6" font-weight="bold" text-anchor="end">12</text>
<path d="M105.5,254.85 H117.3" fill="none" stroke="#555" stroke-width="1.2" stroke-dasharray="1.1,1.9" stroke-linecap="butt" stroke-linejoin="miter"/>
<text x="120.80" y="256.95" font-size="7.6" font-weight="bold" text-anchor="start">+12</text>
<text x="176.00" y="256.95" font-size="7.6" font-weight="bold" text-anchor="end">16</text>
<text x="196.30" y="256.95" font-size="7.6" font-weight="bold" text-anchor="end">12</text>
<text x="217.30" y="256.95" font-size="7.6" font-weight="bold" text-anchor="end">20</text>
<path d="M105.5,263.79999999999995 H117.3" fill="none" stroke="#1a1a1a" stroke-width="1.3" stroke-linecap="butt" stroke-linejoin="miter"/>
<text x="120.80" y="265.90" font-size="7.6" font-weight="bold" text-anchor="start">Dip/13q-</text>
<text x="176.00" y="265.90" font-size="7.6" font-weight="bold" text-anchor="end">97</text>
<text x="196.30" y="265.90" font-size="7.6" font-weight="bold" text-anchor="end">66</text>
<text x="217.30" y="265.90" font-size="7.6" font-weight="bold" text-anchor="end">27</text>
<path d="M105.5,272.75 H117.3" fill="none" stroke="#777" stroke-width="1.2" stroke-dasharray="4.5,2.5,1.7,2.5" stroke-linecap="butt" stroke-linejoin="miter"/>
<text x="120.80" y="274.85" font-size="7.6" font-weight="bold" text-anchor="start">Others</text>
<text x="176.00" y="274.85" font-size="7.6" font-weight="bold" text-anchor="end">14</text>
<text x="196.30" y="274.85" font-size="7.6" font-weight="bold" text-anchor="end">10</text>
<text x="217.30" y="274.85" font-size="7.6" font-weight="bold" text-anchor="end">27</text>
<path d="M297.4,223.3 L298.5,226 L300.5,232 L302,237 L304.1,243.5 L304.7,249.2 L306.4,252.7 L307.5,256.2 L308.1,260.8 L308.7,266.5 L311.6,267.7 L312.2,271.2 L312.7,276.9 L313.4,285 L314.5,295.9 L316.7,298 L317.7,304.6 L319.9,311.1 L325.3,312.2 L326.4,319.8 L328.6,322 L329.7,337.2 L333,338.3 L334,344.8 L336.2,345.9 L337.3,358.9 L339.5,360 L340.6,370.9" fill="none" stroke="#333" stroke-width="1.2" stroke-dasharray="1.1,1.4" stroke-linecap="butt" stroke-linejoin="miter"/>
<path d="M298.0,223.3 V232.7 H305 V241.9 H312 V251.2 H321 V260.2 H349.5 V269.2 H365.4 V278.5 H391.5 V288.7 H439 V300.6 H495.6 V336.3" fill="none" stroke="#555" stroke-width="1.2" stroke-dasharray="1.1,1.9" stroke-linecap="butt" stroke-linejoin="miter"/>
<path d="M298.0,223.3 V230 H302 V236.9 H304 V245.5 H314.8 V256.2 H317.7 V263.1 H320.8 V270.3 H330.4 V274.6 H334.5 V278.7 H337.3 V290.2 H341.4 V297.1 H346.6 V304 H352.3 V310.5 H369.8 V316.2 H383.3 V325.2 H409.4 V332.4 H419.2 V347.8 H447.5 V359.3 H460.8" fill="none" stroke="#777" stroke-width="1.2" stroke-dasharray="7,2.5,1.5,2.5" stroke-linecap="butt" stroke-linejoin="miter"/>
<path d="M298.0,223.3 V234.8 H310 V246.2 H321.5 V256.9 H338.1 V268.8 H348.9 V279.8 H353.5 V291 H357 V303 H363.2 V314 H404.9 V328.2 H469.8 V371" fill="none" stroke="#222" stroke-width="1.4" stroke-dasharray="5.5,3.5,1.2,3.5" stroke-linecap="butt" stroke-linejoin="miter"/>
<path d="M300.5,233 H313.3 V243 H321 V265 H343.5 V276.2 H373.8 V296.2 H393.8 V311.5 H452 V330.5 H460.8" fill="none" stroke="#777" stroke-width="1.2" stroke-dasharray="4.5,2.5,1.7,2.5" stroke-linecap="butt" stroke-linejoin="miter"/>
<path d="M297.40,223.30 H298.20 V224.40 H299.00 H299.40 V226.60 H299.80 H300.55 V227.80 H301.30 H302.05 V229.60 H302.80 H303.55 V230.80 H304.30 H304.85 V232.30 H305.40 H306.35 V234.10 H307.30 H307.85 V235.60 H308.40 H308.77 V236.75 H309.52 V237.90 H309.90 H310.85 V239.80 H311.80 L313.30,240.50 H313.85 V242.00 H314.40 H315.35 V242.80 H316.30 H320.00 H320.75 V243.90 H321.50 H322.65 V245.40 H323.80 H325.75 V246.50 H327.70 H328.85 V247.70 H330.00 H330.57 V248.85 H331.73 V250.00 H332.30 H332.50 V251.35 H332.90 V252.70 H333.10 H334.65 V254.60 H336.20 H338.50 V255.40 H340.80 H341.95 V256.50 H343.10 L346.90,256.90 H347.30 V258.05 H348.10 V259.20 H348.50 H349.35 V261.00 H350.20 H351.95 V261.90 H353.70 L357.70,262.30 H358.65 V263.85 H360.55 V265.40 H361.50 H362.48 V267.30 H364.42 V269.20 H365.40 H366.17 V270.50 H367.70 V271.80 H369.23 V273.10 H370.00 H370.77 V274.63 H372.30 V276.17 H373.83 V277.70 H374.60 H375.25 V279.23 H376.55 V280.77 H377.85 V282.30 H378.50 H379.13 V283.83 H380.40 V285.37 H381.67 V286.90 H382.30 H383.07 V288.43 H384.60 V289.97 H386.13 V291.50 H386.90 H387.67 V292.80 H389.20 V294.10 H390.73 V295.40 H391.50 H392.68 V296.95 H395.02 V298.50 H396.20 H399.25 V300.00 H402.30 H406.15 V300.80 H410.00 L416.20,301.50 L420.00,301.70 H420.57 V302.85 H421.73 V304.00 H422.30 H422.88 V305.15 H424.03 V306.30 H424.60 V306.90 H441.90 H442.20 V308.05 H442.80 V309.20 H443.10 H447.70 H447.98 V310.35 H448.52 V311.50 H448.80 V311.80 H459.50 V316.70 H470.30 V324.20 H502.90" fill="none" stroke="#1a1a1a" stroke-width="1.3" stroke-linecap="butt" stroke-linejoin="miter"/>
<text x="382.80" y="218.10" font-size="7.6" font-weight="bold" text-anchor="start">Karyotype</text>
<text x="441.60" y="218.10" font-size="7.6" font-weight="bold" text-anchor="start">n</text>
<text x="456.00" y="218.10" font-size="7.6" font-weight="bold" text-anchor="start">Died</text>
<text x="479.10" y="218.10" font-size="7.6" font-weight="bold" text-anchor="start">Median</text>
<line x1="382.30" y1="219.70" x2="517.50" y2="219.70" stroke="#333" stroke-width="1.2"/>
<path d="M384.3,225.0 H396.1" fill="none" stroke="#333" stroke-width="1.2" stroke-dasharray="1.1,1.4" stroke-linecap="butt" stroke-linejoin="miter"/>
<text x="399.60" y="227.10" font-size="7.6" font-weight="bold" text-anchor="start">Chr 17</text>
<text x="447.80" y="227.10" font-size="7.6" font-weight="bold" text-anchor="end">20</text>
<text x="466.50" y="227.10" font-size="7.6" font-weight="bold" text-anchor="end">18</text>
<text x="479.10" y="227.10" font-size="7.6" font-weight="bold" text-anchor="start">10 months</text>
<path d="M384.3,233.95 H396.1" fill="none" stroke="#777" stroke-width="1.2" stroke-dasharray="7,2.5,1.5,2.5" stroke-linecap="butt" stroke-linejoin="miter"/>
<text x="399.60" y="236.05" font-size="7.6" font-weight="bold" text-anchor="start">Complex</text>
<text x="447.80" y="236.05" font-size="7.6" font-weight="bold" text-anchor="end">22</text>
<text x="466.50" y="236.05" font-size="7.6" font-weight="bold" text-anchor="end">19</text>
<text x="488.50" y="236.05" font-size="7.6" font-weight="bold" text-anchor="end">26</text>
<path d="M384.3,242.9 H396.1" fill="none" stroke="#222" stroke-width="1.4" stroke-dasharray="5.5,3.5,1.2,3.5" stroke-linecap="butt" stroke-linejoin="miter"/>
<text x="399.60" y="245.00" font-size="7.6" font-weight="bold" text-anchor="start">11q-</text>
<text x="447.80" y="245.00" font-size="7.6" font-weight="bold" text-anchor="end">13</text>
<text x="466.50" y="245.00" font-size="7.6" font-weight="bold" text-anchor="end">10</text>
<text x="488.50" y="245.00" font-size="7.6" font-weight="bold" text-anchor="end">33</text>
<path d="M384.3,251.85 H396.1" fill="none" stroke="#555" stroke-width="1.2" stroke-dasharray="1.1,1.9" stroke-linecap="butt" stroke-linejoin="miter"/>
<text x="399.60" y="253.95" font-size="7.6" font-weight="bold" text-anchor="start">+12</text>
<text x="447.80" y="253.95" font-size="7.6" font-weight="bold" text-anchor="end">16</text>
<text x="466.50" y="253.95" font-size="7.6" font-weight="bold" text-anchor="end">9</text>
<text x="488.50" y="253.95" font-size="7.6" font-weight="bold" text-anchor="end">78</text>
<path d="M384.3,260.79999999999995 H396.1" fill="none" stroke="#1a1a1a" stroke-width="1.3" stroke-linecap="butt" stroke-linejoin="miter"/>
<text x="399.60" y="262.90" font-size="7.6" font-weight="bold" text-anchor="start">Dip/13q-</text>
<text x="447.80" y="262.90" font-size="7.6" font-weight="bold" text-anchor="end">97</text>
<text x="466.50" y="262.90" font-size="7.6" font-weight="bold" text-anchor="end">58</text>
<text x="488.50" y="262.90" font-size="7.6" font-weight="bold" text-anchor="end">54</text>
<path d="M384.3,269.75 H396.1" fill="none" stroke="#777" stroke-width="1.2" stroke-dasharray="4.5,2.5,1.7,2.5" stroke-linecap="butt" stroke-linejoin="miter"/>
<text x="399.60" y="271.85" font-size="7.6" font-weight="bold" text-anchor="start">Others</text>
<text x="447.80" y="271.85" font-size="7.6" font-weight="bold" text-anchor="end">14</text>
<text x="466.50" y="271.85" font-size="7.6" font-weight="bold" text-anchor="end">9</text>
<text x="488.50" y="271.85" font-size="7.6" font-weight="bold" text-anchor="end">48</text>
</svg>
</body></html>
